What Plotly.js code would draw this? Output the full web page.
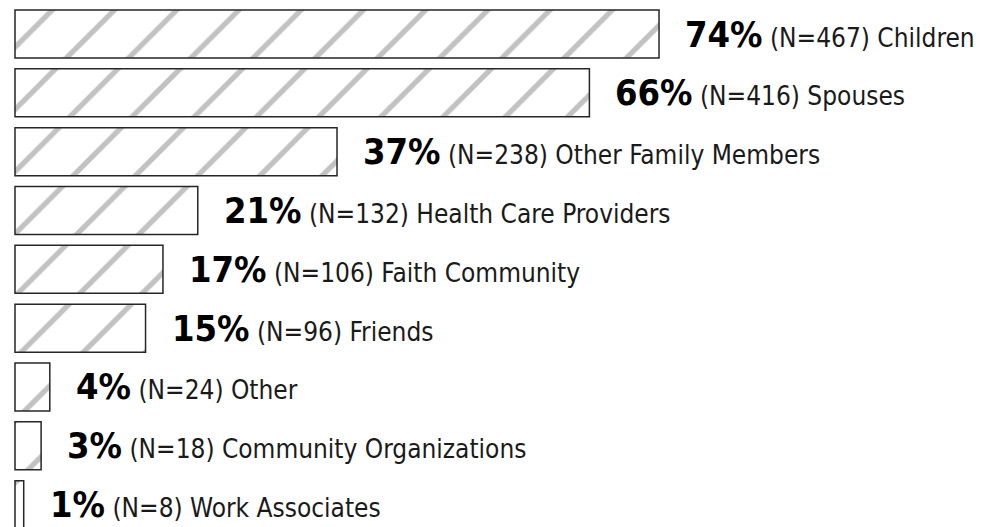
<!DOCTYPE html>
<html>
<head>
<meta charset="utf-8">
<script src="https://cdn.plot.ly/plotly-3.0.1.min.js"></script>
<style>html,body{margin:0;padding:0;background:#fff;}</style>
</head>
<body>
<div id="chart" style="width:984px;height:527px;"></div>
<script>
const categories = ["Children", "Spouses", "Other Family Members", "Health Care Providers", "Faith Community", "Friends", "Other", "Community Organizations", "Work Associates"];
const percents = [74, 66, 37, 21, 17, 15, 4, 3, 1];
const counts = [467, 416, 238, 132, 106, 96, 24, 18, 8];

const trace = {
  type: 'bar',
  orientation: 'h',
  x: percents,
  y: categories,
  marker: {
    color: '#ffffff',
    line: {color: '#262626', width: 1.5},
    pattern: {shape: '/', fgcolor: '#c2c2c2', bgcolor: '#ffffff', size: 44, solidity: 0.12, fillmode: 'replace'}
  },
  hoverinfo: 'none'
};

const annotations = categories.map((c, i) => ({
  x: percents[i],
  y: c,
  xref: 'x', yref: 'y',
  xanchor: 'left', yanchor: 'middle',
  xshift: 24,
  showarrow: false,
  font: {family: "'DejaVu Sans Condensed', 'DejaVu Sans'", size: 26, color: '#1a1a1a'},
  text: "<span style=\"font-family:'DejaVu Sans Condensed','DejaVu Sans';font-size:36px;font-weight:bold;color:#000\">" + percents[i] + "%</span> (N=" + counts[i] + ") " + c
}));

const layout = {
  width: 984, height: 527,
  margin: {l: 0, r: 0, t: 0, b: 0},
  paper_bgcolor: '#ffffff', plot_bgcolor: '#ffffff',
  showlegend: false,
  bargap: 0.184,
  xaxis: {range: [-1.724, 111.34], visible: false, fixedrange: true},
  yaxis: {type: 'category', range: [8.38, -0.578], autorange: false, visible: false, fixedrange: true},
  annotations: annotations
};

Plotly.newPlot('chart', [trace], layout, {displayModeBar: false, staticPlot: true});
</script>
</body>
</html>
